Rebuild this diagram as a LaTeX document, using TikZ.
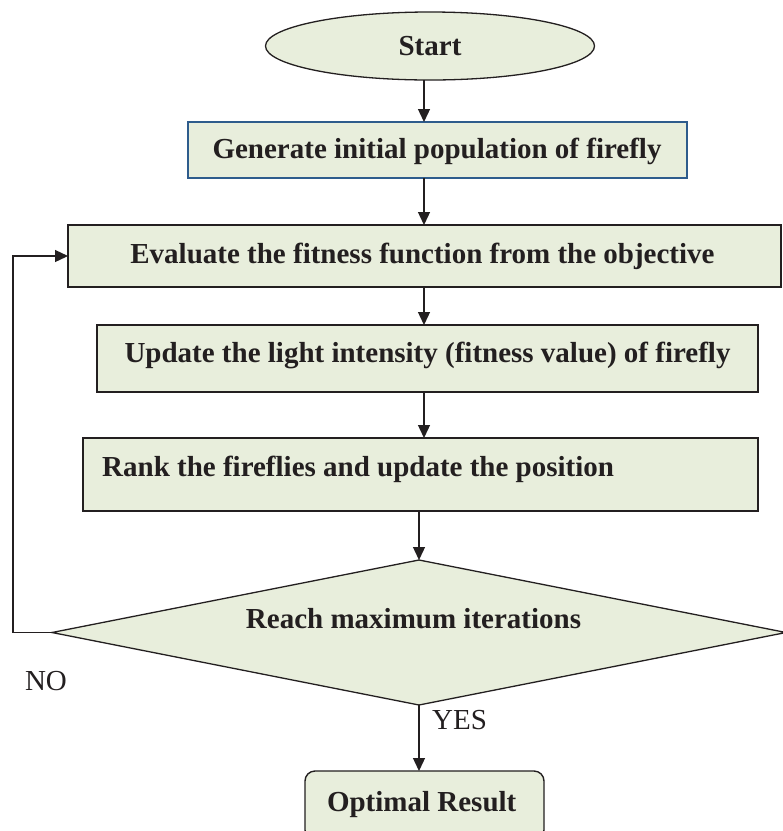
\documentclass[tikz,border=0pt]{standalone}
\usepackage{fontspec}
\setmainfont{Liberation Serif}
\usetikzlibrary{shapes.geometric,arrows.meta}
\definecolor{boxfill}{RGB}{232,238,220}
\definecolor{linec}{RGB}{35,31,32}
\definecolor{blueb}{RGB}{46,92,140}
\begin{document}
\begin{tikzpicture}[x=1pt,y=-1pt,
  shapebox/.style={draw=linec, line width=1.6pt, fill=boxfill, inner sep=0pt, outer sep=0pt},
  bt/.style={text=linec, inner sep=0pt, font=\fontsize{29}{34}\selectfont\bfseries},
  nt/.style={text=linec, inner sep=0pt, font=\fontsize{29}{34}\selectfont},
  arr/.style={draw=linec, line width=1.3pt, -{Triangle[length=13pt,width=12pt]}}]
\useasboundingbox (0,0) rectangle (783,831);
\fill[white] (0,0) rectangle (783,831);
% shapes
\node[shapebox, ellipse, line width=1.3pt, minimum width=329pt, minimum height=68pt] (start) at (430,46) {};
\node[shapebox, draw=blueb, line width=1.3pt, minimum width=499pt, minimum height=56pt] (b1) at (437.5,150) {};
\node[shapebox, minimum width=713pt, minimum height=62pt] (b2) at (424.5,256) {};
\node[shapebox, minimum width=661pt, minimum height=67pt] (b3) at (427.5,358.5) {};
\node[shapebox, minimum width=675pt, minimum height=73pt] (b4) at (420.5,474.5) {};
\node[shapebox, diamond, line width=1.3pt, minimum width=734pt, minimum height=145pt] (d) at (419,632.5) {};
\node[shapebox, rounded corners=10pt, line width=1.4pt, minimum width=239pt, minimum height=69pt] (opt) at (424.5,805.5) {};
% texts
\node[bt, anchor=base] (tstart) at (430,55) {Start};
\node[bt, anchor=base] (t1) at (437,158) {Generate initial population of firefly};
\node[bt, anchor=base] (t2) at (422.5,263) {Evaluate the fitness function from the objective};
\node[bt, anchor=base] (t3) at (427.5,362) {Update the light intensity (fitness value) of firefly};
\node[bt, anchor=base west] (t4) at (102,476) {Rank the fireflies and update the position};
\node[bt, anchor=base] (td) at (413.5,628) {Reach maximum iterations};
\node[bt, anchor=base] (topt) at (421.7,811) {Optimal Result};
\node[nt, anchor=base] (no) at (46,690) {NO};
\node[nt, anchor=base west] (yes) at (432,729) {YES};
% connectors
\coordinate (ax) at (424,0);
\coordinate (fb) at (13,0);
\draw[arr] (start.south -| ax) -- (b1.north -| ax);
\draw[arr] (b1.south -| ax) -- (b2.north -| ax);
\draw[arr] (b2.south -| ax) -- (b3.north -| ax);
\draw[arr] (b3.south -| ax) -- (b4.north -| ax);
\draw[arr] (b4.south -| d.north) -- (d.north);
\draw[arr] (d.south) -- (opt.north -| d.south);
\draw[arr] (d.west) -- (d.west -| fb) -- (b2.west -| fb) -- (b2.west);
\end{tikzpicture}
\end{document}
